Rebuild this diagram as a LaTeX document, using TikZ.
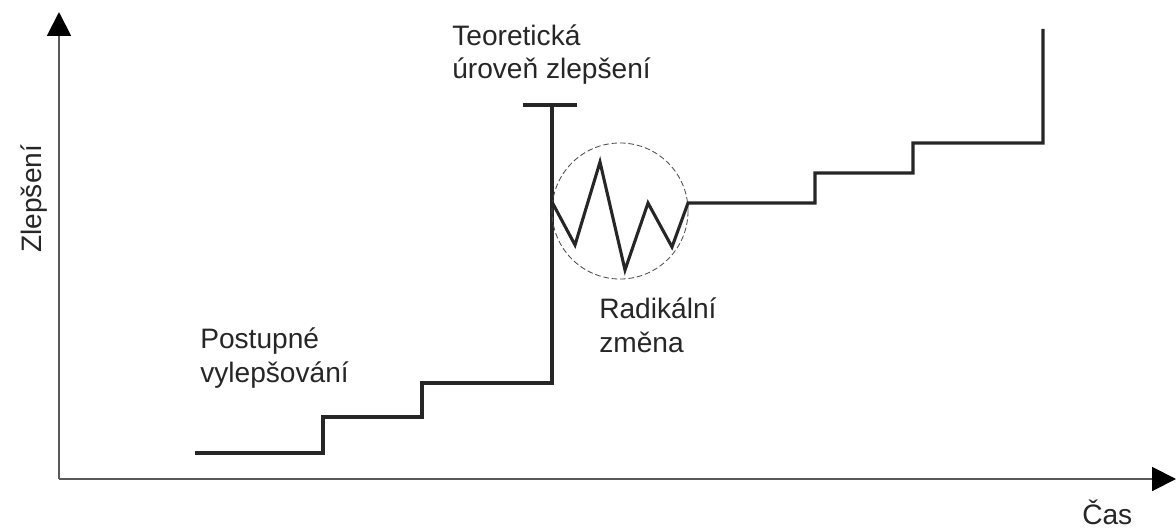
\documentclass[tikz,border=0pt]{standalone}
\usepackage{fontspec}
\setmainfont{Liberation Sans}
\usetikzlibrary{arrows.meta}

\begin{document}
\begin{tikzpicture}[x=0.025cm,y=-0.025cm,
    axis/.style={line width=1.4pt, black!65, -{Triangle[width=17pt,length=17pt,color=black]}},
    curve/.style={line width=2.2pt, black!85},
    note/.style={font=\fontsize{20}{24}\selectfont, text=black!85, align=left, inner sep=0pt},
]
    \useasboundingbox (0,0) rectangle (1176,531);

    % axes
    \coordinate (O) at (59,479);
    \coordinate (ytop) at (59,12);
    \coordinate (xend) at (1176,479);
    \draw[axis] (O) -- (ytop);
    \draw[axis] (O) -- (xend);
    \node[note, rotate=90, anchor=base west] (ylab) at (42,253) {Zlepšení};
    \node[note, anchor=base west] (xlab) at (1082,524) {Čas};

    % gradual steps up to the theoretical level
    \coordinate (start) at (195,453);
    \coordinate (teo) at (552,105);
    \draw[curve] (start) -| (323,417) -| (422,383) -| (teo);
    \draw[curve] (523,105) -- (577,105);

    % radical change and steps after it
    \node[draw=black!70, dash pattern=on 4pt off 2pt, line width=0.6pt, circle,
          minimum size=3.4cm, inner sep=0pt] (radical) at (620,211) {};
    \coordinate (zig) at (552,202);
    \coordinate (top) at (1043,29);
    \draw[curve] (zig) -- (575,245) -- (600,162) -- (625,270) -- (648,203)
        -- (672,247) -- (688,203) -| (815,173) -| (913,143) -| (top);

    % texts (base = baseline of the last line)
    \node[note, anchor=base west] (teor) at (452,79) {Teoretická\\úroveň zlepšení};
    \node[note, anchor=base west] (grad) at (200,382) {Postupné\\vylepšování};
    \node[note, anchor=base west] (rad) at (599,352) {Radikální\\změna};
\end{tikzpicture}
\end{document}
